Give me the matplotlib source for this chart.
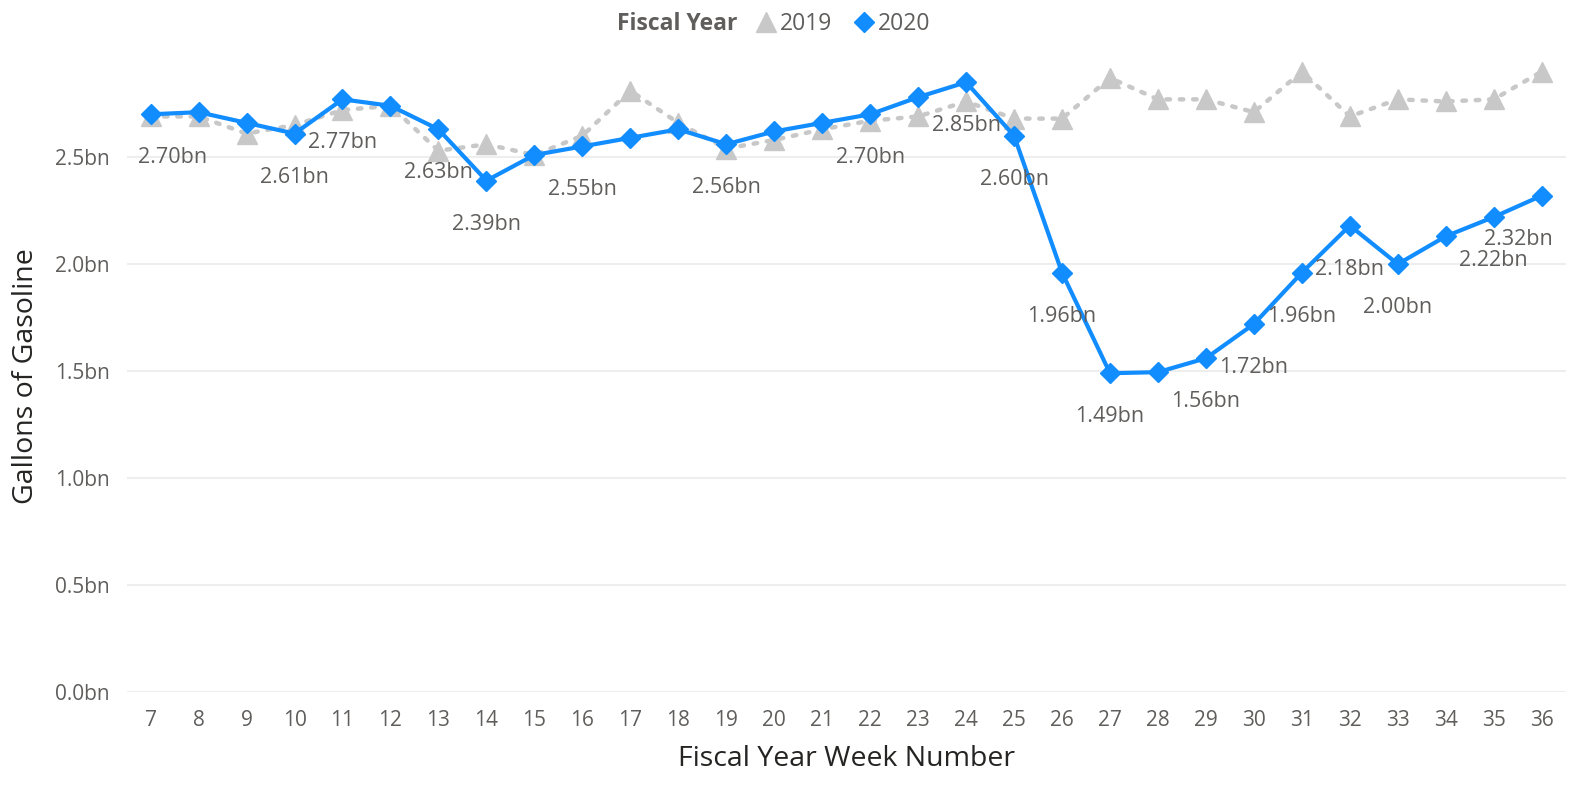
import matplotlib.pyplot as plt

weeks = list(range(7, 37))
fy2019 = [2.69, 2.69, 2.61, 2.65, 2.72, 2.74, 2.53, 2.56, 2.51, 2.60,
          2.81, 2.66, 2.54, 2.58, 2.63, 2.67, 2.69, 2.76, 2.68, 2.68,
          2.87, 2.77, 2.77, 2.71, 2.90, 2.69, 2.77, 2.76, 2.77, 2.90]
fy2020 = [2.70, 2.71, 2.66, 2.61, 2.77, 2.74, 2.63, 2.39, 2.51, 2.55,
          2.59, 2.63, 2.56, 2.62, 2.66, 2.70, 2.78, 2.85, 2.60, 1.96,
          1.49, 1.495, 1.56, 1.72, 1.96, 2.18, 2.00, 2.13, 2.22, 2.32]
labelled_weeks = [7, 10, 11, 13, 14, 16, 19, 22, 24, 25, 26, 27, 29, 30, 31, 32, 33, 35, 36]
# sideways nudge (points) for the edge labels, kept inside the plot area
label_dx = {7: 15.5, 36: -16.5}

blue = '#118DFF'
grey = '#C8C8C8'
txt = '#605E5C'

plt.rcParams['font.family'] = ['Open Sans', 'DejaVu Sans']

fig = plt.figure(figsize=(15.75, 7.9), dpi=100)
ax = fig.add_axes([0.0804, 0.124, 0.9137, 0.799])

ax.plot(weeks, fy2019, color=grey, lw=3.2, ls=(0, (0.8, 2.2)), dash_capstyle='round',
        marker='^', ms=14, mec=grey, mfc=grey, clip_on=False, zorder=2, label='2019')
ax.plot(weeks, fy2020, color=blue, lw=3, marker='D', ms=10,
        mec=blue, mfc=blue, clip_on=False, zorder=3, label='2020')

for w, v in zip(weeks, fy2020):
    if w in labelled_weeks:
        ax.annotate(f'{v:.2f}bn', (w, v), xytext=(label_dx.get(w, 0), -31.3),
                    textcoords='offset points', ha='center', va='center',
                    fontsize=15.5, color=txt, zorder=4)

ax.set_xlim(6.5, 36.5)
ax.set_ylim(0, 2.95)
ax.set_xticks(weeks)
ax.set_yticks([0, 0.5, 1.0, 1.5, 2.0, 2.5])
ax.set_yticklabels(['0.0bn', '0.5bn', '1.0bn', '1.5bn', '2.0bn', '2.5bn'])
ax.tick_params(length=0, labelsize=15, labelcolor=txt)
ax.tick_params(axis='y', pad=12)
ax.tick_params(axis='x', pad=13)
ax.grid(axis='y', color='#EEEEEE', lw=1.5)
ax.set_axisbelow(True)
for s in ax.spines.values():
    s.set_visible(False)

ax.set_xlabel('Fiscal Year Week Number', fontsize=20.5, color='#252423', labelpad=10)
ax.set_ylabel('Gallons of Gasoline', fontsize=20.5, color='#252423', labelpad=11)

fig.text(0.468, 0.969, 'Fiscal Year', fontsize=16.5, fontweight='bold', color=txt,
         ha='right', va='center')
fig.legend(loc='center left', bbox_to_anchor=(0.479, 0.969), ncol=2, frameon=False,
           fontsize=16.5, labelcolor=txt, handlelength=1.0, handletextpad=0.1,
           columnspacing=0.9, borderpad=0, borderaxespad=0)
leg = fig.legends[0]
for h in leg.legend_handles:
    h.set_linestyle('none')

fig.savefig('out.png', dpi=100)
